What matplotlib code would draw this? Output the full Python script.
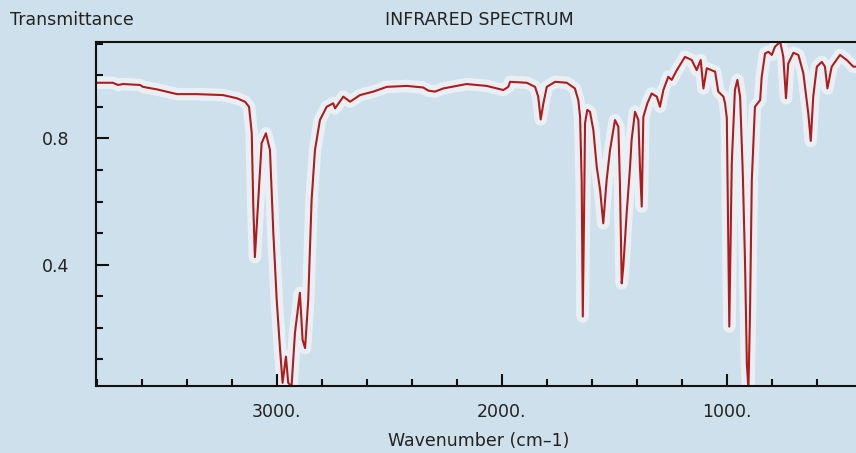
import matplotlib
matplotlib.use("Agg")
import matplotlib.pyplot as plt
from matplotlib.ticker import MultipleLocator, FixedLocator, FixedFormatter

# Data
wavenumber = [3803, 3728, 3705, 3683, 3608, 3594, 3532, 3443, 3354, 3239, 3177, 3141, 3123, 3111, 3104, 3097,
              3082, 3067, 3048, 3030, 3015, 3000, 2985, 2974, 2959, 2949, 2934, 2919, 2897, 2885, 2874, 2860,
              2845, 2830, 2808, 2778, 2749, 2741, 2704, 2674, 2630, 2571, 2511, 2422, 2349, 2326, 2297, 2260,
              2156, 2067, 1993, 1971, 1963, 1889, 1852, 1838, 1827, 1815, 1800, 1763, 1711, 1697, 1675, 1660,
              1652, 1645, 1640, 1634, 1630, 1620, 1608, 1593, 1578, 1563, 1549, 1534, 1519, 1497, 1482, 1475,
              1467, 1460, 1445, 1430, 1423, 1408, 1393, 1386, 1378, 1371, 1353, 1334, 1311, 1297, 1282, 1260,
              1245, 1222, 1186, 1156, 1134, 1116, 1104, 1089, 1052, 1038, 1015, 1008, 1000, 993, 989, 978,
              964, 953, 941, 929, 919, 911, 904, 897, 889, 875, 852, 845, 830, 815, 800, 786, 763, 749, 737,
              727, 704, 682, 660, 638, 627, 616, 600, 578, 564, 553, 534, 497, 467, 438, 426, 400]
transmittance = [0.976, 0.976, 0.969, 0.972, 0.969, 0.963, 0.955, 0.940, 0.940, 0.937, 0.927, 0.916, 0.900, 0.817, 0.584, 0.424,
                 0.605, 0.785, 0.816, 0.763, 0.500, 0.288, 0.130, 0.026, 0.109, 0.026, 0.015, 0.184, 0.311, 0.162, 0.136, 0.288,
                 0.605, 0.763, 0.858, 0.900, 0.911, 0.895, 0.932, 0.916, 0.937, 0.948, 0.963, 0.966, 0.961, 0.951, 0.948, 0.958,
                 0.972, 0.966, 0.953, 0.963, 0.979, 0.976, 0.963, 0.932, 0.860, 0.911, 0.963, 0.979, 0.976, 0.969, 0.958, 0.921,
                 0.868, 0.668, 0.236, 0.584, 0.848, 0.890, 0.884, 0.826, 0.710, 0.636, 0.531, 0.668, 0.763, 0.858, 0.837, 0.658,
                 0.341, 0.394, 0.563, 0.710, 0.795, 0.884, 0.858, 0.710, 0.584, 0.868, 0.911, 0.942, 0.932, 0.900, 0.953, 0.995,
                 0.985, 1.016, 1.058, 1.048, 1.016, 1.048, 0.958, 1.022, 1.011, 0.948, 0.932, 0.911, 0.864, 0.436, 0.204, 0.721,
                 0.953, 0.985, 0.932, 0.689, 0.405, 0.088, 0.004, 0.247, 0.668, 0.900, 0.921, 0.995, 1.069, 1.074, 1.064, 1.090, 1.106, 1.058, 0.927,
                 1.037, 1.071, 1.064, 1.006, 0.879, 0.792, 0.932, 1.027, 1.042, 1.027, 0.958, 1.027, 1.064, 1.048, 1.027, 1.027, 1.027]

x_major = [3000, 2000, 1000]
x_labels = ["3000.", "2000.", "1000."]
y_major = [0.4, 0.8]
y_labels = ["0.4", "0.8"]

bg = "#cee0eb"
txt = "#222222"
plt.rcParams['font.family'] = ['DejaVu Sans']

fig = plt.figure(figsize=(8.56, 4.53), dpi=100, facecolor=bg)
ax = fig.add_axes([96/856, 1-386/453, (856-96)/856, (386-41.7)/453])
ax.set_facecolor(bg)

ax.plot(wavenumber, transmittance, color="white", lw=9, alpha=0.55, solid_joinstyle="round", zorder=1)
ax.plot(wavenumber, transmittance, color="#b01c1c", lw=1.5, zorder=1.5)

ax.set_xlim(3803, 426)
ax.set_ylim(0.016, 1.106)

for s in ["left", "bottom", "top"]:
    ax.spines[s].set_linewidth(1.5)
    ax.spines[s].set_color("#111111")
ax.spines["right"].set_visible(False)

ax.xaxis.set_major_locator(FixedLocator(x_major))
ax.xaxis.set_major_formatter(FixedFormatter(x_labels))
ax.xaxis.set_minor_locator(MultipleLocator(200))
ax.yaxis.set_major_locator(FixedLocator(y_major))
ax.yaxis.set_major_formatter(FixedFormatter(y_labels))
ax.yaxis.set_minor_locator(MultipleLocator(0.1))

ax.tick_params(which="both", direction="in", colors="#111111", width=1.5, labelcolor=txt, labelsize=12.5)
ax.tick_params(axis="x", which="major", length=9, pad=12)
ax.tick_params(axis="x", which="minor", length=5)
ax.tick_params(axis="y", which="major", length=9, pad=19)
ax.tick_params(axis="y", which="minor", length=5)
ax.tick_params(top=False, right=False, which="both")

fig.text(10/856, 1-20/453, "Transmittance", ha="left", va="center", fontsize=12.5, color=txt)
fig.text(479/856, 1-20/453, "INFRARED SPECTRUM", ha="center", va="center", fontsize=12.5, color=txt)
fig.text(479/856, 1-441/453, "Wavenumber (cm–1)", ha="center", va="center", fontsize=12.5, color=txt)

fig.savefig("out.png", dpi=100, facecolor=bg)
